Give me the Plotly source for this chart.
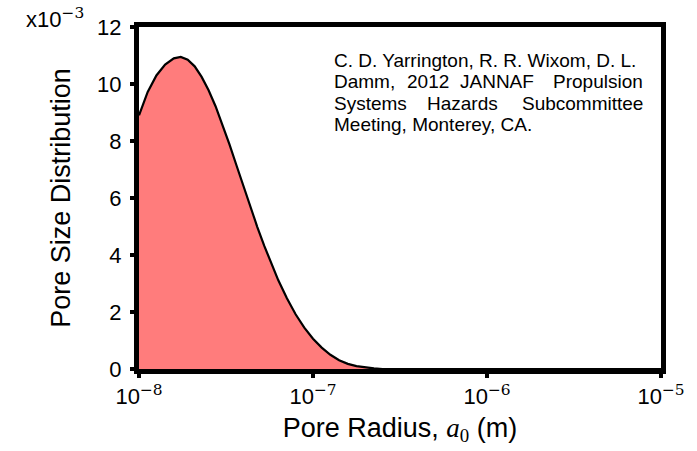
import plotly.graph_objects as go

# Pore radius (m) and pore size distribution (in units of 1e-3)
pore_radius = [
    1.000e-8, 1.122e-8, 1.259e-8, 1.413e-8, 1.585e-8, 1.738e-8, 1.905e-8,
    2.089e-8, 2.291e-8, 2.512e-8, 2.754e-8, 3.020e-8, 3.311e-8, 3.631e-8,
    3.981e-8, 4.365e-8, 4.786e-8, 5.248e-8, 5.754e-8, 6.310e-8, 7.079e-8,
    7.943e-8, 8.913e-8, 1.000e-7, 1.122e-7, 1.259e-7, 1.413e-7, 1.585e-7,
    1.778e-7, 1.995e-7, 2.239e-7, 2.512e-7, 3.162e-7, 1.000e-6, 1.000e-5,
]
psd_e3 = [
    8.90, 9.72, 10.30, 10.68, 10.90, 10.95, 10.85,
    10.62, 10.25, 9.78, 9.22, 8.58, 7.88, 7.15,
    6.40, 5.68, 4.98, 4.32, 3.70, 3.12, 2.48,
    1.92, 1.45, 1.06, 0.75, 0.50, 0.31, 0.18,
    0.10, 0.05, 0.02, 0.0, 0.0, 0.0, 0.0,
]

x_tick_exps = [-8, -7, -6, -5]
y_ticks = [0, 2, 4, 6, 8, 10, 12]

citation_lines = [
    "C. D. Yarrington, R. R. Wixom, D. L.",
    ["Damm,", "2012", "JANNAF", "Propulsion"],
    ["Systems", "Hazards", "Subcommittee"],
    "Meeting, Monterey, CA.",
]

SANS = "Liberation Sans, Arial, sans-serif"
SERIF = "DejaVu Serif, serif"
ITAL = "Liberation Serif, serif"

W, H = 697, 451
L, R, T, B = 139, 36, 27, 80
PW, PH = W - L - R, H - T - B


def px(x):
    return (x - L) / PW


def py(y):
    return (H - B - y) / PH


def sup(s):
    return f"<sup><span style='font-family:{SERIF}'>{s}</span></sup>"


fig = go.Figure()
fig.add_trace(go.Scatter(
    x=pore_radius, y=psd_e3,
    mode="lines",
    line=dict(color="black", width=2.2),
    fill="tozeroy",
    fillcolor="#FF7C7C",
    hoverinfo="skip",
    showlegend=False,
))

tick_text = ["10" + sup(f"−{abs(e)}") for e in x_tick_exps]

fig.update_layout(
    width=W, height=H,
    margin=dict(l=L, r=R, t=T, b=B),
    paper_bgcolor="white",
    plot_bgcolor="white",
    font=dict(family=SANS, color="black", size=22),
    xaxis=dict(
        type="log",
        range=[-8, -5],
        tickvals=[10.0 ** e for e in x_tick_exps],
        ticktext=tick_text,
        showgrid=False, zeroline=False,
        showline=True, linecolor="black", linewidth=5, mirror=True,
        ticks="outside", ticklen=4, tickwidth=4, tickcolor="black",
        tickfont=dict(size=22, family=SANS),
        title=dict(
            text=f"Pore Radius, <span style='font-family:{ITAL}'><i>a</i><sub>0</sub></span> (m)",
            font=dict(size=27, family=SANS),
            standoff=11,
        ),
    ),
    yaxis=dict(
        range=[0, 12],
        tickvals=y_ticks,
        showgrid=False, zeroline=False,
        showline=True, linecolor="black", linewidth=5, mirror=True,
        ticks="outside", ticklen=4, tickwidth=4, tickcolor="black",
        ticklabelstandoff=4,
        tickfont=dict(size=22, family=SANS),
        title=dict(
            text="Pore Size Distribution",
            font=dict(size=27, family=SANS),
            standoff=20,
        ),
    ),
)

# axis exponent label
fig.add_annotation(
    xref="paper", yref="paper",
    x=px(86), y=py(18), xanchor="right", yanchor="middle",
    text="x10" + sup("−3"),
    showarrow=False, font=dict(size=22, family=SANS),
)

# justified citation block
cite_font = dict(size=19, family=SANS, color="black")
left_x, right_x = 332, 645
line_y = [61, 82, 104, 125]

fig.add_annotation(xref="paper", yref="paper", x=px(left_x), y=py(line_y[0]),
                   xanchor="left", yanchor="middle", text=citation_lines[0],
                   showarrow=False, font=cite_font)

words2 = citation_lines[1]
pos2 = [(left_x, "left"), (428, "center"), (497, "center"), (right_x, "right")]
for w, (xx, anc) in zip(words2, pos2):
    fig.add_annotation(xref="paper", yref="paper", x=px(xx), y=py(line_y[1]),
                       xanchor=anc, yanchor="middle", text=w,
                       showarrow=False, font=cite_font)

words3 = citation_lines[2]
pos3 = [(left_x, "left"), (462, "center"), (right_x, "right")]
for w, (xx, anc) in zip(words3, pos3):
    fig.add_annotation(xref="paper", yref="paper", x=px(xx), y=py(line_y[2]),
                       xanchor=anc, yanchor="middle", text=w,
                       showarrow=False, font=cite_font)

fig.add_annotation(xref="paper", yref="paper", x=px(left_x), y=py(line_y[3]),
                   xanchor="left", yanchor="middle", text=citation_lines[3],
                   showarrow=False, font=cite_font)

fig.write_html("out.html")
